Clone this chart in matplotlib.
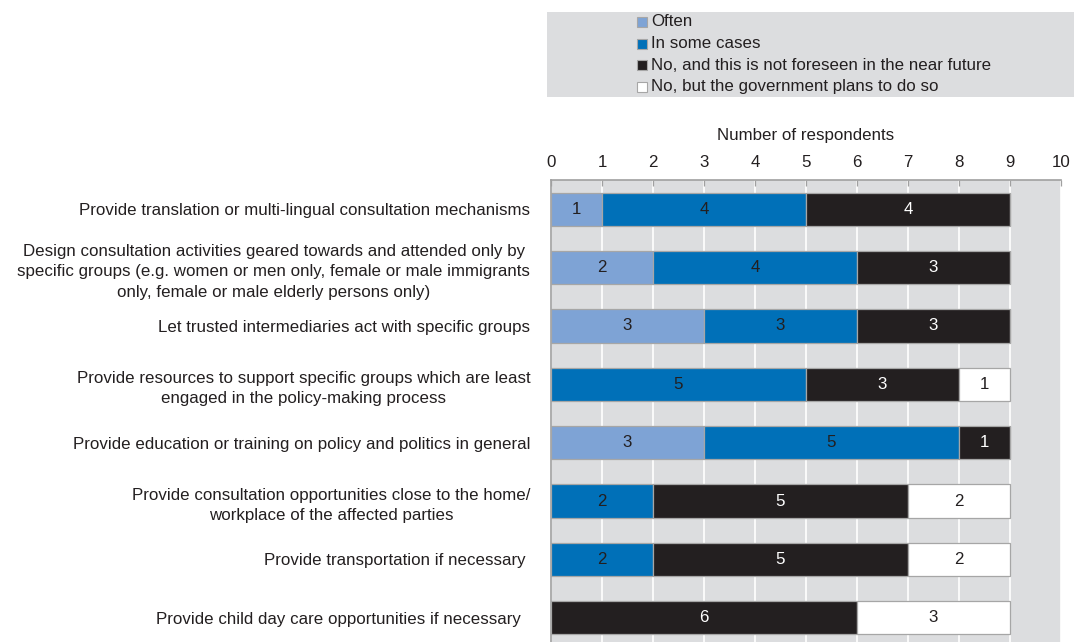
import matplotlib
matplotlib.use("Agg")
import matplotlib.pyplot as plt
from matplotlib.patches import Rectangle
import numpy as np

plt.rcParams['font.family'] = ['Liberation Sans', 'DejaVu Sans']

categories = [
    "Provide translation or multi-lingual consultation mechanisms",
    "Design consultation activities geared towards and attended only by\nspecific groups (e.g. women or men only, female or male immigrants\nonly, female or male elderly persons only)",
    "Let trusted intermediaries act with specific groups",
    "Provide resources to support specific groups which are least\nengaged in the policy-making process",
    "Provide education or training on policy and politics in general",
    "Provide consultation opportunities close to the home/\nworkplace of the affected parties",
    "Provide transportation if necessary ",
    "Provide child day care opportunities if necessary  ",
]
series_names = [
    "Often",
    "In some cases",
    "No, and this is not foreseen in the near future",
    "No, but the government plans to do so",
]
often = [1, 2, 3, 0, 3, 0, 0, 0]
some_cases = [4, 4, 3, 5, 5, 2, 2, 0]
no_not_foreseen = [4, 3, 3, 3, 1, 5, 5, 6]
no_but_plans = [0, 0, 0, 1, 0, 2, 2, 3]
x_ticks = [0, 1, 2, 3, 4, 5, 6, 7, 8, 9, 10]

FS = 12.2
colors = ["#7ea3d5", "#0070b8", "#231f20", "#ffffff"]
text_colors = ["#231f20", "#231f20", "#ffffff", "#231f20"]
bg = "#dcdddf"
edge = "#a6a6a6"

fig = plt.figure(figsize=(10.74, 6.42), dpi=100)
ax = fig.add_axes([551 / 1074, 1 - 647 / 642, 510 / 1074, 467 / 642])
ax.set_facecolor(bg)

y = np.arange(len(categories))
left = np.zeros(len(categories))
for vals, col, tcol in zip([often, some_cases, no_not_foreseen, no_but_plans], colors, text_colors):
    vals = np.array(vals, dtype=float)
    bars = ax.barh(y, vals, left=left, height=0.57, color=col, edgecolor=edge,
                   linewidth=0.9, zorder=3)
    for b, v in zip(bars, vals):
        if v > 0:
            ax.text(b.get_x() + b.get_width() / 2, b.get_y() + b.get_height() / 2,
                    f"{int(v)}", ha="center", va="center", color=tcol,
                    fontsize=FS, zorder=4)
    left += vals

ax.set_xlim(0, 10)
ax.set_ylim(len(categories) - 0.5, -0.5)
ax.set_xticks(x_ticks)
ax.xaxis.tick_top()
ax.xaxis.set_label_position("top")
ax.set_xlabel("Number of respondents", fontsize=FS, color="#231f20", labelpad=10.5)
ax.tick_params(axis="x", direction="in", length=4, width=0.9, color="#a0a0a0",
               labelsize=FS, labelcolor="#231f20", pad=7.2)
ax.set_yticks(y)
ax.set_yticklabels(categories, fontsize=FS, color="#231f20")
for lbl in ax.get_yticklabels():
    lbl.set_multialignment("center")
    lbl.set_linespacing(1.45)
ax.tick_params(axis="y", length=0, pad=15)

ax.grid(axis="x", color="white", linewidth=1.2, zorder=0)
ax.set_axisbelow(True)
for side in ["right", "bottom"]:
    ax.spines[side].set_visible(False)
for side in ["left", "top"]:
    ax.spines[side].set_color("#a0a0a0")
    ax.spines[side].set_linewidth(1.2)

# legend panel
fig.add_artist(Rectangle((547 / 1074, 1 - 97 / 642), 527 / 1074, 85 / 642,
                         transform=fig.transFigure, facecolor=bg, edgecolor="none",
                         zorder=0))
sq_w, sq_h = 10 / 1074, 10 / 642
for i, (name, col) in enumerate(zip(series_names, colors)):
    yc = 1 - (22 + 21.6 * i) / 642
    fig.add_artist(Rectangle((637 / 1074, yc - sq_h / 2), sq_w, sq_h,
                             transform=fig.transFigure, facecolor=col,
                             edgecolor=edge, linewidth=0.8))
    fig.text(651 / 1074, yc, name, ha="left", va="center", fontsize=FS,
             color="#231f20")

fig.savefig("out.png", dpi=100)
